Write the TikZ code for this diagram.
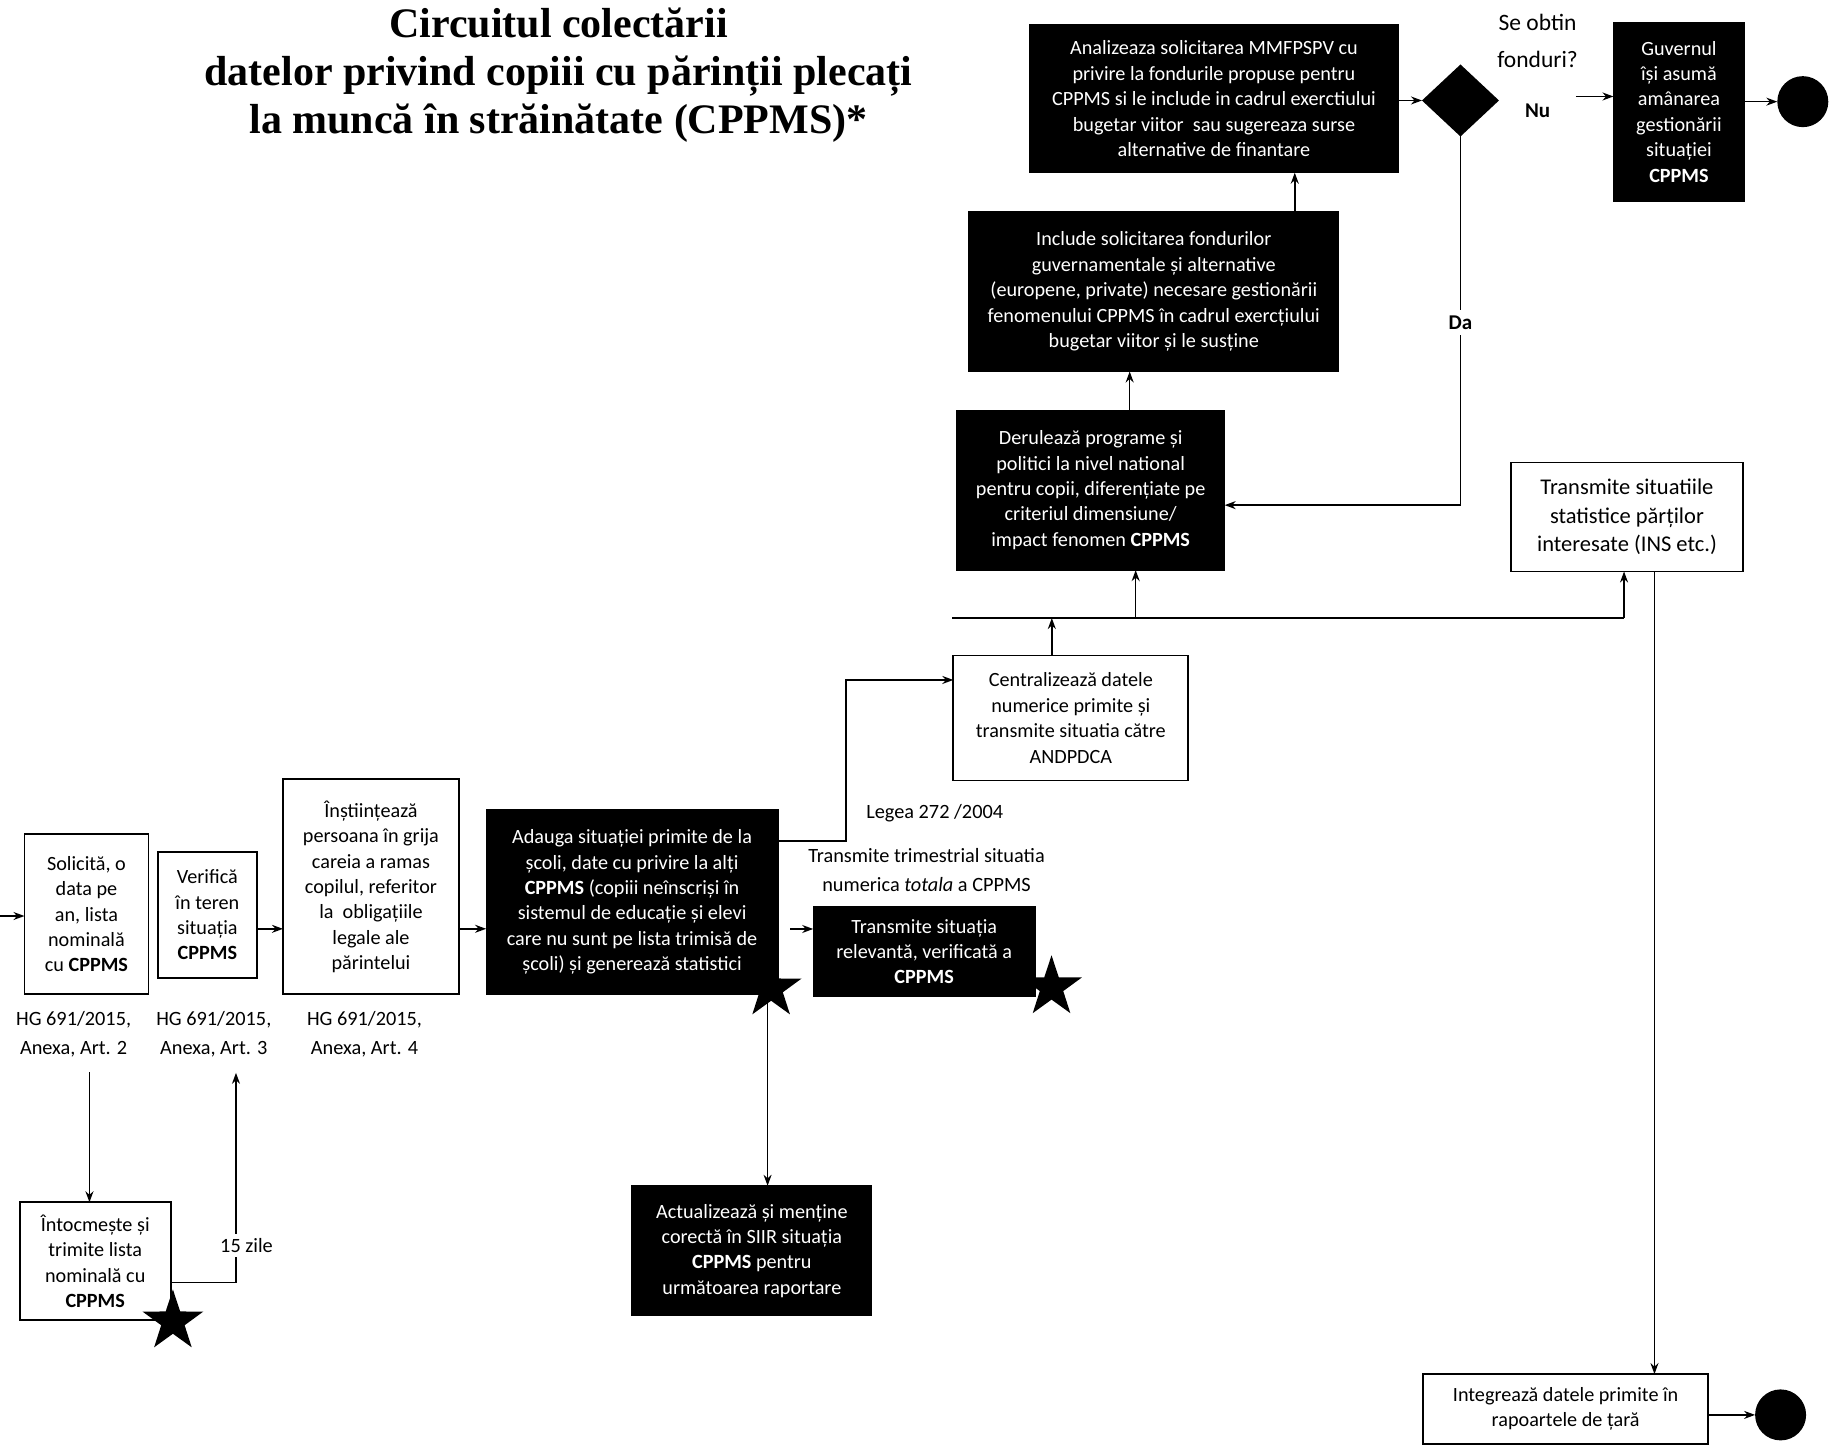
\documentclass[tikz,border=0pt]{standalone}
\usepackage{fontspec}
\setmainfont{Carlito}
\newfontfamily\titlefont{Liberation Serif}
\usetikzlibrary{arrows.meta,shapes.geometric,calc}
\begin{document}
\begin{tikzpicture}[x=1.1684pt,y=-1.1684pt,
  every node/.style={inner sep=0pt,outer sep=0pt},
  boxtext/.style={align=center,font=\fontsize{20.2}{25.4}\selectfont},
  wbox/.style={boxtext,draw=black,line width=1.8pt,fill=white},
  bbox/.style={boxtext,draw=black,fill=black,text=white,line width=1pt},
  lbl/.style={align=center,font=\fontsize{20.3}{29}\selectfont},
  qlbl/.style={align=center,font=\fontsize{23.5}{37}\selectfont},
  conn/.style={line width=1.5pt,-{Stealth[length=11pt,width=8pt]}},
  plain/.style={line width=1.5pt},
  starmark/.style={star,star points=5,star point ratio=2.6,fill=black,minimum size=64pt},
  endmark/.style={circle,fill=black,minimum size=51pt}]
\useasboundingbox (0,0) rectangle (1568,1238);

% title
\node[align=center,font=\titlefont\bfseries\fontsize{42}{48}\selectfont] (title) at (478,64)
  {Circuitul colectării\\datelor privind copiii cu părinții plecați\\la muncă în străinătate (CPPMS)*};

% top right
\node[bbox,minimum width=369pt,minimum height=148pt] (analiz) at (1039,84.5)
  {Analizeaza solicitarea MMFPSPV cu\\privire la fondurile propuse pentru\\CPPMS si le include in cadrul exerctiului\\bugetar viitor\ \ sau sugereaza surse\\alternative de finantare};
\node[diamond,fill=black,minimum width=77pt,minimum height=72pt] (dec) at (1250,86) {};
\node[qlbl] (q) at (1316,35) {Se obtin\\fonduri?};
\node[qlbl,font=\bfseries\fontsize{21}{24}\selectfont] (nu) at (1316,95) {Nu};
\node[bbox,minimum width=131pt,minimum height=179pt] (guv) at (1437,95.5)
  {Guvernul\\își asumă\\amânarea\\gestionării\\situației\\\textbf{CPPMS}};
\node[endmark] (end1) at (1543,87) {};

\node[bbox,minimum width=370pt,minimum height=160pt] (include) at (987.5,249.5)
  {Include solicitarea fondurilor\\guvernamentale și alternative\\(europene, private) necesare gestionării\\fenomenului CPPMS în cadrul exercțiului\\bugetar viitor și le susține};
\node[bbox,minimum width=268pt,minimum height=160pt] (derul) at (933.5,419.5)
  {Derulează programe și\\politici la nivel national\\pentru copii, diferențiate pe\\criteriul dimensiune/\\impact fenomen \textbf{CPPMS}};
\node[wbox,minimum width=232pt,minimum height=109pt,font=\fontsize{22.5}{28.5}\selectfont] (trans1) at (1392.5,442.5)
  {Transmite situatiile\\statistice părților\\interesate (INS etc.)};
\node[wbox,minimum width=235pt,minimum height=125pt] (central) at (916.5,614.5)
  {Centralizează datele\\numerice primite și\\transmite situatia către\\ANDPDCA};
\node[wbox,minimum width=285pt,minimum height=70pt] (integr) at (1340,1206)
  {Integrează datele primite în\\rapoartele de țară};
\node[endmark] (end2) at (1524,1211) {};

% middle
\node[bbox,minimum width=292pt,minimum height=185pt] (adauga) at (541,772)
  {Adauga situației primite de la\\școli, date cu privire la alți\\\textbf{CPPMS} (copiii neînscriși în\\sistemul de educație și elevi\\care nu sunt pe lista trimisă de\\școli) și generează statistici};
\node[bbox,minimum width=222pt,minimum height=90pt] (trans2) at (791,814.5)
  {Transmite situația\\relevantă, verificată a\\\textbf{CPPMS}};
\node[bbox,minimum width=240pt,minimum height=130pt] (actual) at (643.5,1070.5)
  {Actualizează și menține\\corectă în SIIR situația\\\textbf{CPPMS} pentru\\următoarea raportare};
\node[lbl] (legea) at (800,696) {Legea 272 /2004};
\node[lbl] (trim) at (793,744.5) {Transmite trimestrial situatia\\numerica \textit{totala} a CPPMS};

% left
\node[wbox,minimum width=124pt,minimum height=160pt] (solic) at (74,782.5)
  {Solicită, o\\data pe\\an, lista\\nominală\\cu \textbf{CPPMS}};
\node[wbox,minimum width=99pt,minimum height=126pt] (verif) at (177.5,783)
  {Verifică\\în teren\\situația\\\textbf{CPPMS}};
\node[wbox,minimum width=176pt,minimum height=215pt] (inst) at (317.5,759)
  {Înștiințează\\persoana în grija\\careia a ramas\\copilul, referitor\\la\ \ obligațiile\\legale ale\\părintelui};
\node[wbox,minimum width=151pt,minimum height=118pt] (intoc) at (81.5,1079.5)
  {Întocmește și\\trimite lista\\nominală cu\\\textbf{CPPMS}};
\node[lbl] (hg1) at (63,885.5) {HG 691/2015,\\Anexa, Art. 2};
\node[lbl] (hg2) at (183,885.5) {HG 691/2015,\\Anexa, Art. 3};
\node[lbl] (hg3) at (312,885.5) {HG 691/2015,\\Anexa, Art. 4};

% connectors
\coordinate (in) at (0,784);
\draw[conn] (in) -- (in -| solic.west);
\draw[conn] ([yshift=-14pt]verif.east) -- ([yshift=-14pt]verif.east -| inst.west);
\draw[conn] ([yshift=-42pt]inst.east) -- ([yshift=-42pt]inst.east -| adauga.west);
\draw[conn,shorten <=78pt] ([xshift=3pt]solic.south) -- ([xshift=3pt]solic.south |- intoc.north);
\draw[conn,shorten >=95pt] ([yshift=-21pt]intoc.east) -| ([xshift=28.6pt]verif.south);
\node[lbl,fill=white,inner sep=4pt] (zile) at (211,1066) {15 zile};
\draw[conn,shorten <=12pt] ([yshift=-27pt]adauga.east) -- ([yshift=-27pt]adauga.east -| trans2.west);
\draw[conn] ([yshift=61pt]adauga.east) -- ++(58,0) |- ([yshift=38pt]central.west);
\draw[conn] ([xshift=135.5pt]adauga.south) -- ([xshift=135.5pt]adauga.south |- actual.north);

\coordinate (busL) at (815,529);
\coordinate (busR) at (1390,529);
\draw[plain] (busL) -- (busR);
\draw[conn] (busR) -- (busR |- trans1.south);
\draw[conn] ([xshift=-19pt]central.north) -- ([xshift=-19pt]central.north |- busL);
\draw[conn] ([xshift=45pt]derul.south |- busL) -- ([xshift=45pt]derul.south);
\draw[conn] ([xshift=39pt]derul.north) -- ([xshift=39pt]derul.north |- include.south);
\draw[conn] ([xshift=141pt]include.north) -- ([xshift=141pt]include.north |- analiz.south);
\draw[conn] (dec.west -| analiz.east) -- (dec.west);
\draw[conn] (dec.south) |- ([yshift=-15pt]derul.east);
\node[fill=white,inner sep=6pt,font=\bfseries\fontsize{21}{24}\selectfont] (da) at (1250,276) {Da};
\draw[conn,shorten <=77pt] ([yshift=4pt]dec.east) -- ([yshift=4pt]dec.east -| guv.west);
\draw[conn] (end1 -| guv.east) -- (end1);
\draw[conn] ([xshift=27.5pt]trans1.south) -- ([xshift=27.5pt]trans1.south |- integr.north);
\draw[conn] (end2 -| integr.east) -- (end2);

% stars
\node[starmark] (s1) at (660,846) {};
\node[starmark] (s2) at (900,845) {};
\node[starmark] (s3) at (148,1131) {};
\end{tikzpicture}
\end{document}
